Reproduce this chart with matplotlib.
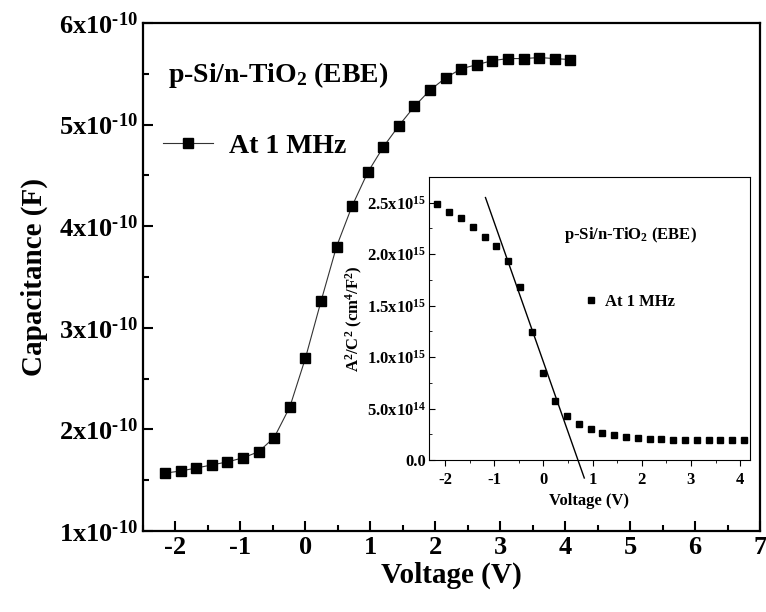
import matplotlib
matplotlib.use("Agg")
import matplotlib.pyplot as plt
from matplotlib.ticker import MultipleLocator, FixedLocator

plt.rcParams["font.family"] = ["Liberation Serif", "DejaVu Serif"]
plt.rcParams["font.weight"] = "bold"
plt.rcParams["axes.unicode_minus"] = False
plt.rcParams["mathtext.fontset"] = "custom"
plt.rcParams["mathtext.rm"] = "Liberation Serif:bold"
plt.rcParams["mathtext.it"] = "Liberation Serif:bold"
plt.rcParams["mathtext.bf"] = "Liberation Serif:bold"

# C-V data at 1 MHz
voltage = [-2.16, -1.92, -1.68, -1.44, -1.20, -0.96, -0.72, -0.48, -0.24, 0.00,
           0.24, 0.48, 0.72, 0.96, 1.20, 1.44, 1.68, 1.92, 2.16, 2.40,
           2.64, 2.88, 3.12, 3.36, 3.60, 3.84, 4.08]
capacitance = [1.57, 1.59, 1.62, 1.65, 1.68, 1.72, 1.78, 1.92, 2.22, 2.70,
               3.26, 3.80, 4.20, 4.53, 4.78, 4.99, 5.18, 5.34, 5.46, 5.55,
               5.59, 5.63, 5.65, 5.65, 5.66, 5.65, 5.64]  # x1e-10 F

# Mott-Schottky data (A^2/C^2), x1e15
ms_values = [2.49, 2.41, 2.35, 2.26, 2.17, 2.08, 1.93, 1.68, 1.24, 0.845,
             0.57, 0.43, 0.35, 0.30, 0.26, 0.24, 0.22, 0.21, 0.20, 0.20,
             0.19, 0.19, 0.19, 0.19, 0.19, 0.19, 0.19]
fit_v = [-1.18, 0.83]
fit_y = [2.55, -0.175]

main_yticks = [1, 2, 3, 4, 5, 6]
main_ytick_labels = [r"%dx10$^{\text{-10}}$" % v for v in main_yticks]
inset_yticks = [0.0, 0.5, 1.0, 1.5, 2.0, 2.5]
inset_ytick_labels = ["0.0", r"5.0x10$^{14}$", r"1.0x10$^{15}$",
                      r"1.5x10$^{15}$", r"2.0x10$^{15}$", r"2.5x10$^{15}$"]

fig = plt.figure(figsize=(7.66, 6.12), dpi=100)
ax = fig.add_axes([0.1867, 0.1324, 0.8055, 0.830])

ax.plot(voltage, [c * 1e-10 for c in capacitance], color="#333333", lw=0.8,
        marker="s", ms=7.5, mfc="black", mec="black", label="At 1 MHz")
ax.set_xlim(-2.5, 7)
ax.set_ylim(1e-10, 6e-10)
ax.xaxis.set_major_locator(MultipleLocator(1))
ax.xaxis.set_minor_locator(MultipleLocator(0.5))
ax.yaxis.set_major_locator(FixedLocator([v * 1e-10 for v in main_yticks]))
ax.yaxis.set_minor_locator(MultipleLocator(0.5e-10))
ax.set_yticklabels(main_ytick_labels)
ax.tick_params(which="both", direction="in", top=False, right=False,
               labelsize=19, width=1.5)
ax.tick_params(which="major", length=7)
ax.tick_params(which="minor", length=4)
for s in ax.spines.values():
    s.set_linewidth(1.6)
ax.set_xlabel("Voltage (V)", fontsize=21, fontweight="bold", labelpad=2)
ax.set_ylabel("Capacitance (F)", fontsize=21, fontweight="bold", labelpad=8)

ax.text(0.04, 0.898, r"p-Si/n-TiO$_2$ (EBE)", transform=ax.transAxes,
        fontsize=20, fontweight="bold", va="center", ha="left")
ax.legend(loc="center left", bbox_to_anchor=(0.015, 0.757), frameon=False,
          fontsize=20, handlelength=1.8, handletextpad=0.55, borderaxespad=0)

# inset
ins = fig.add_axes([0.560, 0.2484, 0.419, 0.4624])
ins.plot(voltage, [v * 1e15 for v in ms_values], ls="none", marker="s",
         ms=3.8, color="black", label="At 1 MHz")
ins.plot(fit_v, [v * 1e15 for v in fit_y], color="black", lw=1.0,
         clip_on=False)
ins.set_xlim(-2.33, 4.2)
ins.set_ylim(0, 2.75e15)
ins.xaxis.set_major_locator(MultipleLocator(1))
ins.xaxis.set_minor_locator(MultipleLocator(0.5))
ins.yaxis.set_major_locator(FixedLocator([v * 1e15 for v in inset_yticks]))
ins.yaxis.set_minor_locator(MultipleLocator(0.25e15))
ins.set_yticklabels(inset_ytick_labels)
ins.tick_params(axis="x", which="both", direction="out", labelsize=12, pad=5)
ins.tick_params(axis="y", which="both", direction="in", labelsize=12, pad=2)
ins.tick_params(which="major", length=4)
ins.tick_params(which="minor", length=2.5)
ins.set_xlabel("Voltage (V)", fontsize=12, fontweight="bold", labelpad=3)
ins.set_ylabel(r"A$^{2}$/C$^{2}$ (cm$^{4}$/F$^{2}$)", fontsize=12,
               fontweight="bold", labelpad=1)
ins.text(0.42, 0.795, r"p-Si/n-TiO$_2$ (EBE)", transform=ins.transAxes,
         fontsize=12, fontweight="bold", va="center", ha="left")
ins.legend(loc="center left", bbox_to_anchor=(0.47, 0.56), frameon=False,
           fontsize=12, handlelength=0.6, handletextpad=0.5, borderaxespad=0)

fig.savefig("out.png", dpi=100)
